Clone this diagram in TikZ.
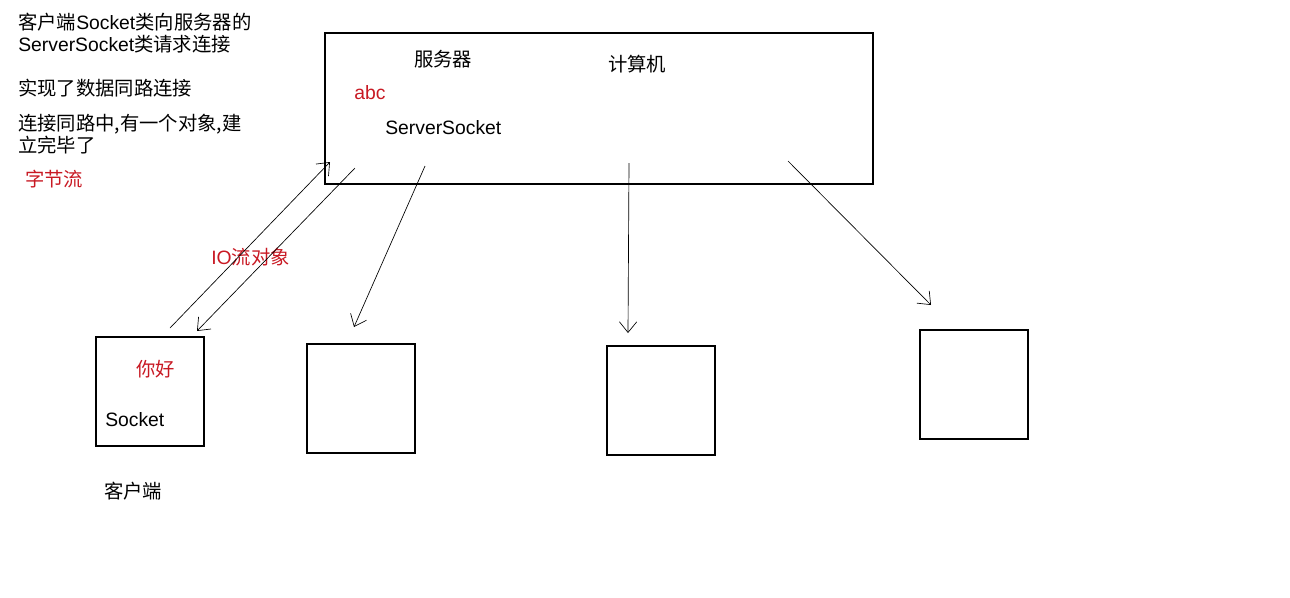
\documentclass[tikz,border=0pt]{standalone}
\usepackage{fontspec}
\setmainfont{Liberation Sans}
\newfontfamily\cjk{Noto Sans CJK SC}
\usetikzlibrary{arrows.meta}
\definecolor{notered}{RGB}{200,25,35}
\newcommand{\zh}[1]{{\cjk #1}}

\begin{document}
\begin{tikzpicture}[x=0.75pt, y=-0.75pt,
    box/.style={draw, line width=0.8pt, inner sep=0pt, minimum width=81pt, minimum height=81.75pt},
    txt/.style={anchor=west, inner sep=0pt, align=left, font=\fontsize{14.5pt}{16.5pt}\selectfont},
    link/.style={line width=0.5pt, -{Straight Barb[length=8pt,width=13pt]}}]
  \useasboundingbox (0,0) rectangle (1290,597);

  % Server machine
  \node[box, minimum width=411pt, minimum height=113.25pt] (server) at (599,108.5) {};
  \node[txt] (srvname) at (414,59) {\zh{服务器}};
  \node[txt] (computer) at (608,64) {\zh{计算机}};
  \node[txt, text=notered] (abc) at (354,93) {abc};
  \node[txt] (srvsock) at (385,128) {ServerSocket};

  % Client machines
  \node[box] (client) at (150,391.5) {};
  \node[box] (boxb) at (361,398.5) {};
  \node[box] (boxc) at (661,400.5) {};
  \node[box] (boxd) at (974,384.5) {};
  \node[txt, text=notered] (hello) at (136,369) {\zh{你好}};
  \node[txt] (sock) at (105,420) {Socket};
  \node[txt] (clname) at (104,491) {\zh{客户端}};

  % Notes
  \node[txt] (note1) at (18,33) {\zh{客户端}Socket\zh{类向服务器的}\\ServerSocket\zh{类请求连接}};
  \node[txt] (note2) at (18,88) {\zh{实现了数据同路连接}};
  \node[txt] (note3) at (18,134.5) {\zh{连接同路中,有一个对象,建}\\\zh{立完毕了}};
  \node[txt, text=notered] (note4) at (25,179) {\zh{字节流}};
  \node[txt, text=notered] (iolabel) at (211,257) {IO\zh{流对象}};

  % Connections
  \coordinate (upstart) at (170,328);
  \coordinate (upend) at (330,162);
  \coordinate (dnstart) at (355,168);
  \coordinate (dnend) at (197,331);
  \coordinate (bstart) at (425,166);
  \coordinate (bend) at (354,327);
  \coordinate (cstart) at (629,163);
  \coordinate (cend) at (628,333);
  \coordinate (dstart) at (788,161);
  \coordinate (dend) at (931,305);
  \draw[link] (upstart) -- (upend);
  \draw[link] (dnstart) -- (dnend);
  \draw[link] (bstart) -- (bend);
  \draw[link] (cstart) -- (cend);
  \draw[link] (dstart) -- (dend);

\end{tikzpicture}
\end{document}
